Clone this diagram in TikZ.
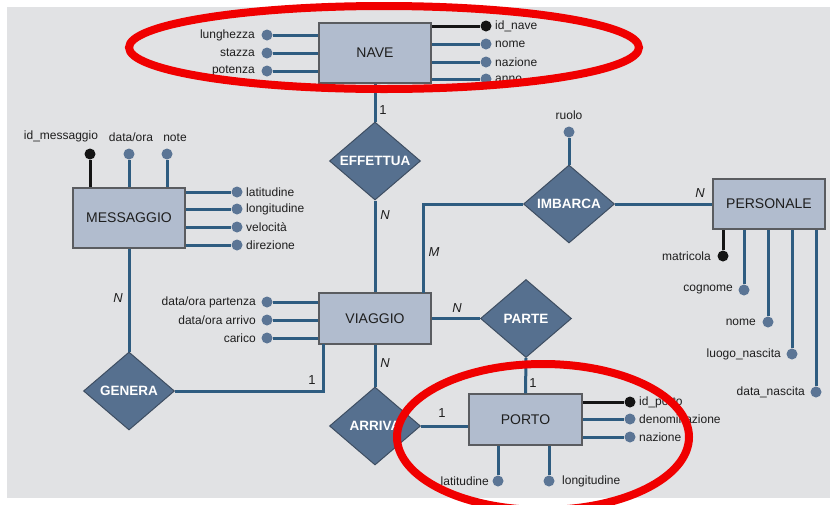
\documentclass[tikz,border=0pt]{standalone}
\usepackage{fontspec}
\setmainfont{Liberation Sans}
\usetikzlibrary{shapes.geometric}
\definecolor{sfondo}{HTML}{E1E2E4}
\definecolor{entfill}{HTML}{B1BCCE}
\definecolor{bordo}{HTML}{5A5C60}
\definecolor{relfill}{HTML}{56708F}
\definecolor{relbordo}{HTML}{3E4E62}
\definecolor{linea}{HTML}{2E5C80}
\definecolor{punto}{HTML}{5B7595}
\definecolor{nero}{HTML}{141414}
\definecolor{testo}{HTML}{1E1E1E}
\definecolor{rosso}{HTML}{F00000}

\begin{document}
\begin{tikzpicture}[x=1pt,y=-1pt,
  entita/.style={draw=bordo,line width=1.4pt,fill=entfill,minimum width=112,inner sep=0pt,text=testo,font=\fontsize{14}{16}\selectfont},
  relaz/.style={diamond,aspect=1.2,draw=relbordo,line width=1pt,fill=relfill,minimum width=91,minimum height=78,inner sep=0pt,text=white,font=\bfseries\fontsize{13.5}{16}\selectfont},
  attr/.style={circle,fill=punto,minimum size=11,inner sep=0pt,label distance=1.5pt},
  chiave/.style={attr,fill=nero},
  every label/.style={text=testo,font=\fontsize{12}{14}\selectfont},
  link/.style={draw=linea,line width=3pt},
  card/.style={text=testo,font=\itshape\fontsize{13}{15}\selectfont},
  uno/.style={text=testo,font=\fontsize{13}{15}\selectfont},
  anello/.style={draw=rosso,line width=8pt}]
  \useasboundingbox (0,0) rectangle (830,504);
  \fill[white] (0,0) rectangle (830,504);
  \fill[sfondo] (7,7) rectangle (830,498);

  \node (nave) at (375,53) [entita,minimum height=60] {NAVE};
  \node (viaggio) at (375,318.5) [entita,minimum height=51] {VIAGGIO};
  \node (messaggio) at (129,218) [entita,minimum height=60] {MESSAGGIO};
  \node (personale) at (769,204) [entita,minimum height=50] {PERSONALE};
  \node (porto) at (525.5,419.5) [entita,minimum height=51,minimum width=113] {PORTO};

  \node (effettua) at (375,161) [relaz] {EFFETTUA};
  \node (genera) at (129,391) [relaz] {GENERA};
  \node (arriva) at (375,426) [relaz] {ARRIVA};
  \node (parte) at (526,318.5) [relaz] {PARTE};
  \node (imbarca) at (569,204) [relaz] {IMBARCA};

  \node (lunghezza) at (267,35) [attr,label={[label distance=3pt]left:lunghezza}] {};
  \node (stazza) at (267,53) [attr,label={[label distance=3pt]left:stazza}] {};
  \node (potenza) at (267,71) [attr,label={[label distance=3pt]left:potenza}] {};
  \node (idnave) at (486,26) [chiave,label=right:id\_nave] {};
  \node (nomenave) at (486,44) [attr,label=right:nome] {};
  \node (nazionenave) at (486,62) [attr,label=right:nazione] {};
  \node (anno) at (486,79) [attr,label=right:anno] {};

  \node (idmess) at (90,154) [chiave,label={[xshift=-29pt,label distance=3pt]above:id\_messaggio}] {};
  \node (dataora) at (129,154) [attr,label={[xshift=2pt,label distance=3pt]above:data/ora}] {};
  \node (note) at (167,154) [attr,label={[xshift=8pt,label distance=3pt]above:note}] {};
  \node (latmess) at (237,192) [attr,label=right:latitudine] {};
  \node (longmess) at (237,209) [attr,label=right:longitudine] {};
  \node (velocita) at (237,227) [attr,label=right:velocità] {};
  \node (direzione) at (237,245) [attr,label=right:direzione] {};

  \node (partenza) at (267,302) [attr,label={[label distance=2pt]left:data/ora partenza}] {};
  \node (arrivo) at (267,320) [attr,label={[label distance=2pt]left:data/ora arrivo}] {};
  \node (carico) at (267,338) [attr,label={[label distance=2pt]left:carico}] {};

  \node (idporto) at (630,402) [chiave,label=right:id\_porto] {};
  \node (denominazione) at (630,419) [attr,label=right:denominazione] {};
  \node (nazioneporto) at (630,437) [attr,label=right:nazione] {};
  \node (latporto) at (498,481) [attr,label=left:latitudine] {};
  \node (longporto) at (549,481) [attr,label={[label distance=4pt]right:longitudine}] {};

  \node (ruolo) at (569,132) [attr,label={[label distance=3pt]above:ruolo}] {};

  \node (matricola) at (723,256) [chiave,label={[label distance=3pt]left:matricola}] {};
  \node (cognome) at (744,290) [attr,label={[label distance=2pt]left:cognome}] {};
  \node (nomepers) at (768,322) [attr,label={[label distance=3pt]left:nome}] {};
  \node (luogo) at (792,354) [attr,label={[label distance=2pt]left:luogo\_nascita}] {};
  \node (datanascita) at (816,392) [attr,label={[label distance=2pt]left:data\_nascita}] {};

  \coordinate (vgenera) at (323,344);
  \coordinate (vimbarca) at (423,293);

  \draw[link] (lunghezza.east) -- (lunghezza.east -| nave.west);
  \draw[link] (stazza.east) -- (stazza.east -| nave.west);
  \draw[link] (potenza.east) -- (potenza.east -| nave.west);
  \draw[link,draw=nero] (idnave.west) -- (idnave.west -| nave.east);
  \draw[link] (nomenave.west) -- (nomenave.west -| nave.east);
  \draw[link] (nazionenave.west) -- (nazionenave.west -| nave.east);
  \draw[link] (anno.west) -- (anno.west -| nave.east);

  \draw[link,draw=nero] (idmess.south) -- (idmess.south |- messaggio.north);
  \draw[link] (dataora.south) -- (dataora.south |- messaggio.north);
  \draw[link] (note.south) -- (note.south |- messaggio.north);
  \draw[link] (latmess.west) -- (latmess.west -| messaggio.east);
  \draw[link] (longmess.west) -- (longmess.west -| messaggio.east);
  \draw[link] (velocita.west) -- (velocita.west -| messaggio.east);
  \draw[link] (direzione.west) -- (direzione.west -| messaggio.east);

  \draw[link] (partenza.east) -- (partenza.east -| viaggio.west);
  \draw[link] (arrivo.east) -- (arrivo.east -| viaggio.west);
  \draw[link] (carico.east) -- (carico.east -| viaggio.west);

  \draw[link,draw=nero] (idporto.west) -- (idporto.west -| porto.east);
  \draw[link] (denominazione.west) -- (denominazione.west -| porto.east);
  \draw[link] (nazioneporto.west) -- (nazioneporto.west -| porto.east);
  \draw[link] (latporto.north) -- (latporto.north |- porto.south);
  \draw[link] (longporto.north) -- (longporto.north |- porto.south);

  \draw[link] (ruolo.south) -- (imbarca.north);

  \draw[link,draw=nero] (matricola.north) -- (matricola.north |- personale.south);
  \draw[link] (cognome.north) -- (cognome.north |- personale.south);
  \draw[link] (nomepers.north) -- (nomepers.north |- personale.south);
  \draw[link] (luogo.north) -- (luogo.north |- personale.south);
  \draw[link] (datanascita.north) -- (datanascita.north |- personale.south);

  \draw[link] (nave.south) -- (effettua.north);
  \draw[link] (effettua.south) -- (viaggio.north);
  \draw[link] (messaggio.south) -- (genera.north);
  \draw[link] (genera.east) -| (vgenera);
  \draw[link] (viaggio.south) -- (arriva.north);
  \draw[link] (arriva.east) -- (arriva.east -| porto.west);
  \draw[link] (viaggio.east) -- (parte.west);
  \draw[link] (parte.south) -- (porto.north);
  \draw[link] (imbarca.west) -| (vimbarca);
  \draw[link] (imbarca.east) -- (personale.west);

  \node (c1) at (383,110) [uno] {1};
  \node (c2) at (385,215) [card] {N};
  \node (c3) at (118,298) [card] {N};
  \node (c4) at (312,380) [uno] {1};
  \node (c5) at (385,363) [card] {N};
  \node (c6) at (442,413) [uno] {1};
  \node (c7) at (457,308) [card] {N};
  \node (c8) at (533,383) [uno] {1};
  \node (c9) at (434,252) [card] {M};
  \node (c10) at (700,193) [card] {N};

  \draw[anello] (384,47.5) ellipse [x radius=255,y radius=41.5];
  \draw[anello] (543,437) ellipse [x radius=146,y radius=73];
\end{tikzpicture}
\end{document}
